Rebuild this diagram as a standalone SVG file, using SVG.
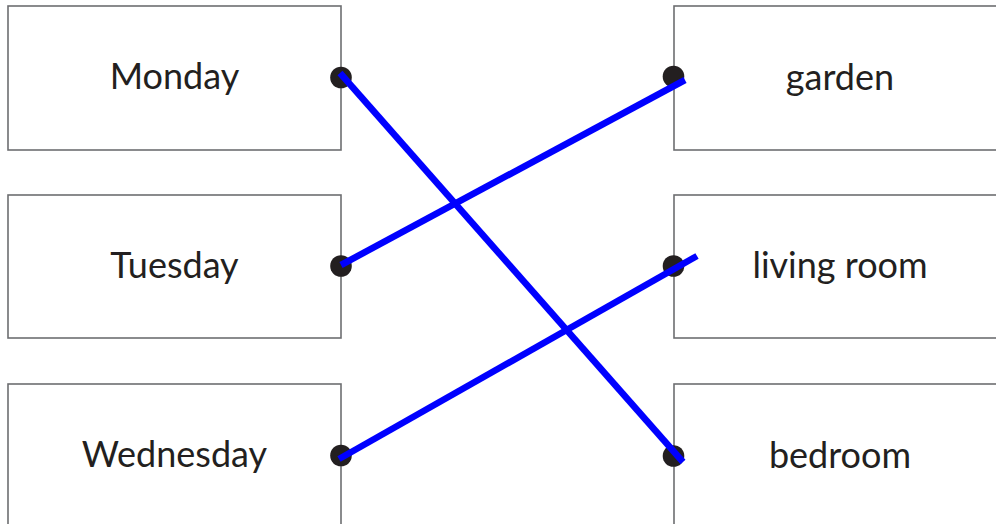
<svg xmlns="http://www.w3.org/2000/svg" width="996" height="524" viewBox="0 0 996 524">
<style>
.box{fill:#fff;stroke:#6d6e71;stroke-width:1.6}
.lbl{font-family:Lato,"Liberation Sans",sans-serif;font-size:36px;fill:#231f20;text-anchor:middle}
.dot{fill:#231f20}
.ln{stroke:#0000ff;stroke-width:6.6;fill:none}
</style>
<rect width="996" height="524" fill="#fff"/>
<g id="monday"><rect class="box" x="8" y="6" width="333" height="144"/><text class="lbl" x="174.5" y="89">Monday</text><circle class="dot" cx="341" cy="77.5" r="10.8"/></g>
<g id="tuesday"><rect class="box" x="8" y="195" width="333" height="143"/><text class="lbl" x="174.5" y="278">Tuesday</text><circle class="dot" cx="341" cy="266" r="10.8"/></g>
<g id="wednesday"><rect class="box" x="8" y="384" width="333" height="150"/><text class="lbl" x="174.5" y="467">Wednesday</text><circle class="dot" cx="341" cy="455.5" r="10.8"/></g>
<g id="garden"><rect class="box" x="674" y="6" width="333" height="144"/><text class="lbl" x="840" y="90">garden</text><circle class="dot" cx="673.5" cy="76.5" r="10.8"/></g>
<g id="living-room"><rect class="box" x="674" y="195" width="333" height="143"/><text class="lbl" x="840" y="278">living room</text><circle class="dot" cx="673.5" cy="266" r="10.8"/></g>
<g id="bedroom"><rect class="box" x="674" y="384" width="333" height="150"/><text class="lbl" x="840" y="468">bedroom</text><circle class="dot" cx="673.5" cy="456" r="10.8"/></g>
<g id="connectors">
<line class="ln" x1="340" y1="73" x2="683" y2="462"/>
<line class="ln" x1="341" y1="265" x2="685" y2="80"/>
<line class="ln" x1="339" y1="459" x2="697" y2="256"/>
</g>
</svg>
